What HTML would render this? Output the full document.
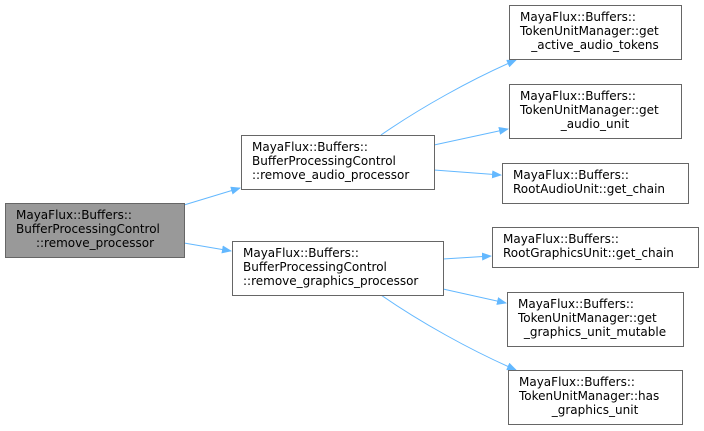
<!DOCTYPE html>
<html><head><meta charset="utf-8"><style>
html,body{margin:0;padding:0;background:#fff;width:704px;height:431px;overflow:hidden}
text{font-family:"DejaVu Sans","Liberation Sans",sans-serif;font-size:12px;fill:#000}
</style></head><body>
<svg width="704" height="431" viewBox="0 0 704 431" xmlns="http://www.w3.org/2000/svg">
<defs><marker id="a" markerWidth="10" markerHeight="8" refX="9" refY="4" orient="auto" markerUnits="userSpaceOnUse"><path d="M0,0 L10,4 L0,8 z" fill="#63b8ff"/></marker></defs>
<g fill="none" stroke="#63b8ff" stroke-width="1" marker-end="url(#a)">
<path d="M184,205 L240,188"/>
<path d="M184,243 L231,251"/>
<path d="M381,135 C420,108 470,80 516,60"/>
<path d="M434,145 L508,129"/>
<path d="M434,170 L501,175"/>
<path d="M443,259 L491,256"/>
<path d="M443,289 L506,303"/>
<path d="M381,295 C420,322 470,350 516,370"/>
</g>
<g stroke="#666" stroke-width="1">
<rect x="5.5" y="203.5" width="179" height="54" fill="#999"/>
<rect x="241.5" y="135.5" width="193" height="54" fill="#fff"/>
<rect x="232.5" y="241.5" width="211" height="54" fill="#fff"/>
<rect x="509.5" y="5.5" width="172" height="54" fill="#fff"/>
<rect x="509.5" y="84.5" width="172" height="54" fill="#fff"/>
<rect x="502.5" y="163.5" width="186" height="40" fill="#fff"/>
<rect x="492.5" y="227.5" width="206" height="40" fill="#fff"/>
<rect x="507.5" y="292.5" width="176" height="54" fill="#fff"/>
<rect x="508.5" y="370.5" width="174" height="54" fill="#fff"/>
</g>
<text x="16" y="219">MayaFlux::Buffers::</text>
<text x="16" y="233">BufferProcessingControl</text>
<text x="95" y="247" text-anchor="middle">::remove_processor</text>

<text x="252" y="151">MayaFlux::Buffers::</text>
<text x="252" y="165">BufferProcessingControl</text>
<text x="252" y="179">::remove_audio_processor</text>

<text x="243" y="257">MayaFlux::Buffers::</text>
<text x="243" y="271">BufferProcessingControl</text>
<text x="243" y="285">::remove_graphics_processor</text>

<text x="520" y="21">MayaFlux::Buffers::</text>
<text x="520" y="35">TokenUnitManager::get</text>
<text x="595" y="49" text-anchor="middle">_active_audio_tokens</text>

<text x="520" y="100">MayaFlux::Buffers::</text>
<text x="520" y="114">TokenUnitManager::get</text>
<text x="595" y="128" text-anchor="middle">_audio_unit</text>

<text x="513" y="179">MayaFlux::Buffers::</text>
<text x="513" y="193">RootAudioUnit::get_chain</text>

<text x="503" y="243">MayaFlux::Buffers::</text>
<text x="503" y="257">RootGraphicsUnit::get_chain</text>

<text x="518" y="308">MayaFlux::Buffers::</text>
<text x="518" y="322">TokenUnitManager::get</text>
<text x="595" y="336" text-anchor="middle">_graphics_unit_mutable</text>

<text x="519" y="386">MayaFlux::Buffers::</text>
<text x="519" y="400">TokenUnitManager::has</text>
<text x="595" y="414" text-anchor="middle">_graphics_unit</text>
</svg>
</body></html>
